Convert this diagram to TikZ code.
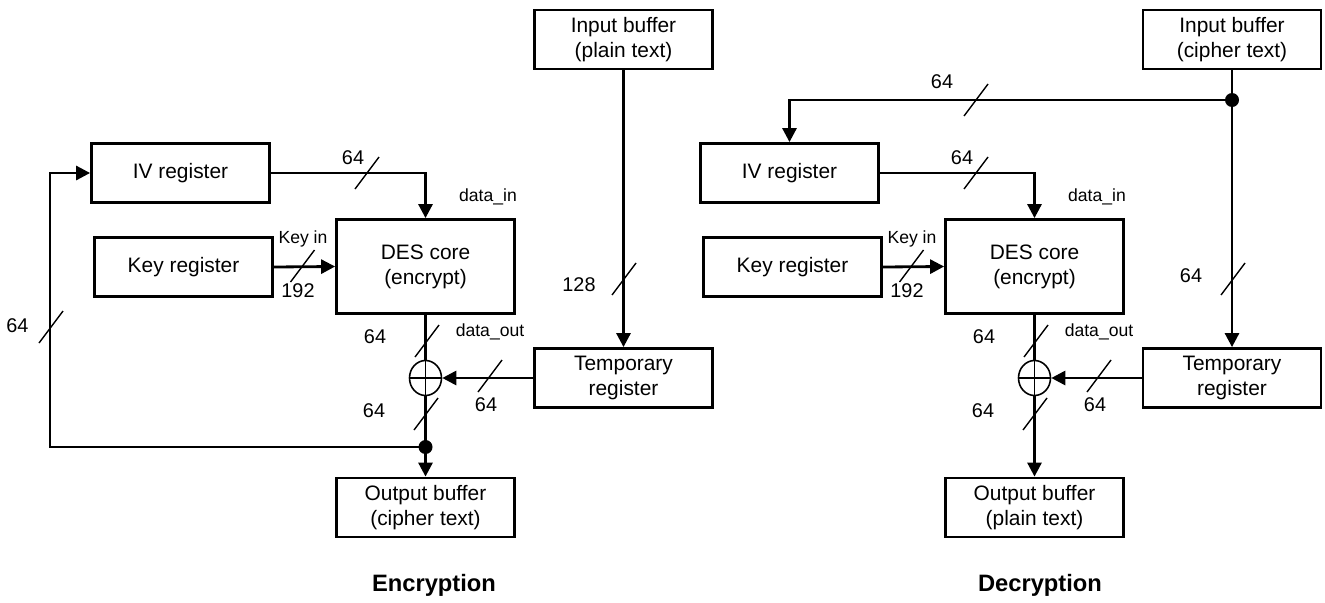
\documentclass[tikz,border=0pt]{standalone}
\usepackage{fontspec}
\setmainfont{Liberation Sans}
\usetikzlibrary{arrows.meta, shapes.geometric}
\newcommand{\busmark}[2]{\draw[busline, shift={(#1,#2)}] (-12,16) -- (12,-16);}

\begin{document}
\begin{tikzpicture}[x=0.02cm, y=-0.02cm,
	regbox/.style={draw, line width=1.6pt, minimum width=3.56cm, minimum height=1.18cm, align=center, inner sep=0pt, font=\fontsize{11.9}{14.2}\selectfont},
	wire/.style={line width=1.6pt},
	sig/.style={wire, -{Triangle[length=0.28cm, width=0.28cm]}},
	busline/.style={line width=0.8pt},
	num/.style={inner sep=0pt, font=\fontsize{11.3}{13}\selectfont},
	port/.style={inner sep=0pt, font=\fontsize{10}{12}\selectfont},
	xorgate/.style={draw, ellipse, line width=0.9pt, minimum width=0.64cm, minimum height=0.7cm, inner sep=0pt},
	junction/.style={circle, fill, inner sep=0pt, minimum size=0.28cm},
	caption/.style={font=\bfseries\fontsize{13.5}{16}\selectfont}]
	\useasboundingbox (0,0) rectangle (1325,602);

	% encryption
	\node[regbox] (inP) at (623.5,39.5) {Input buffer\\(plain text)};
	\node[regbox] (ivE) at (180.5,173) {IV register};
	\node[regbox] (keyE) at (183.5,267) {Key register};
	\node[regbox, minimum height=1.88cm] (desE) at (425.5,266.5) {DES core\\(encrypt)};
	\node[regbox] (tmpE) at (623.5,378) {Temporary\\register};
	\node[regbox] (outE) at (425.5,507.5) {Output buffer\\(cipher text)};
	\node[xorgate] (xorE) at (425.5,378) {};
	\node[junction] (dotE) at (425.5,447) {};
	\coordinate (cornerE) at (50,447);
	\draw[busline] (xorE.north) -- (xorE.south) (xorE.west) -- (xorE.east);
	\draw[sig] (inP.south) -- (tmpE.north);
	\draw[sig] (ivE.east) -| (desE.north);
	\draw[sig] (keyE.east) -- (desE.west);
	\draw[wire] (desE.south) -- (xorE.north);
	\draw[sig] (tmpE.west) -- (xorE.east);
	\draw[wire] (xorE.south) -- (dotE.center);
	\draw[sig] (dotE.center) -- (outE.north);
	\draw[sig] (dotE.center) -- (cornerE) |- (ivE.west);
	\busmark{51}{327}
	\busmark{367}{173}
	\busmark{302.5}{266}
	\busmark{624}{279}
	\busmark{427}{341}
	\busmark{490}{376}
	\busmark{426}{414}
	\node[num] (loopnumE) at (17.5,325.5) {64};
	\node[num] (ivnumE) at (353,158) {64};
	\node[port] (dinE) at (488,197) {data\_in};
	\node[port] (kinE) at (303,239) {Key in};
	\node[num] (keynumE) at (298,291) {192};
	\node[num] (innumE) at (579,285) {128};
	\node[num] (desnumE) at (375,337) {64};
	\node[port] (doutE) at (490,332) {data\_out};
	\node[num] (tmpnumE) at (486,405) {64};
	\node[num] (outnumE) at (374,411) {64};
	\node[caption] (capE) at (434,585) {Encryption};

	% decryption
	\node[regbox] (inC) at (1232,39.5) {Input buffer\\(cipher text)};
	\node[regbox] (ivD) at (789.5,173) {IV register};
	\node[regbox] (keyD) at (792.5,267) {Key register};
	\node[regbox, minimum height=1.88cm] (desD) at (1034.5,266.5) {DES core\\(encrypt)};
	\node[regbox] (tmpD) at (1232,378) {Temporary\\register};
	\node[regbox] (outD) at (1034.5,507.5) {Output buffer\\(plain text)};
	\node[xorgate] (xorD) at (1034.5,378) {};
	\node[junction] (dotD) at (1232,100) {};
	\draw[busline] (xorD.north) -- (xorD.south) (xorD.west) -- (xorD.east);
	\draw[wire] (inC.south) -- (dotD.center);
	\draw[sig] (dotD.center) -- (tmpD.north);
	\draw[sig] (dotD.center) -| (ivD.north);
	\draw[sig] (ivD.east) -| (desD.north);
	\draw[sig] (keyD.east) -- (desD.west);
	\draw[wire] (desD.south) -- (xorD.north);
	\draw[sig] (tmpD.west) -- (xorD.east);
	\draw[sig] (xorD.south) -- (outD.north);
	\busmark{976}{100}
	\busmark{976}{173}
	\busmark{911.5}{266}
	\busmark{1233}{279}
	\busmark{1036}{341}
	\busmark{1099}{376}
	\busmark{1035}{414}
	\node[num] (topnumD) at (942,82) {64};
	\node[num] (ivnumD) at (962,158) {64};
	\node[port] (dinD) at (1097,197) {data\_in};
	\node[port] (kinD) at (912,239) {Key in};
	\node[num] (keynumD) at (907,291) {192};
	\node[num] (innumD) at (1191,276) {64};
	\node[num] (desnumD) at (984,337) {64};
	\node[port] (doutD) at (1099,332) {data\_out};
	\node[num] (tmpnumD) at (1095,405) {64};
	\node[num] (outnumD) at (983,411) {64};
	\node[caption] (capD) at (1040,585) {Decryption};
\end{tikzpicture}
\end{document}
